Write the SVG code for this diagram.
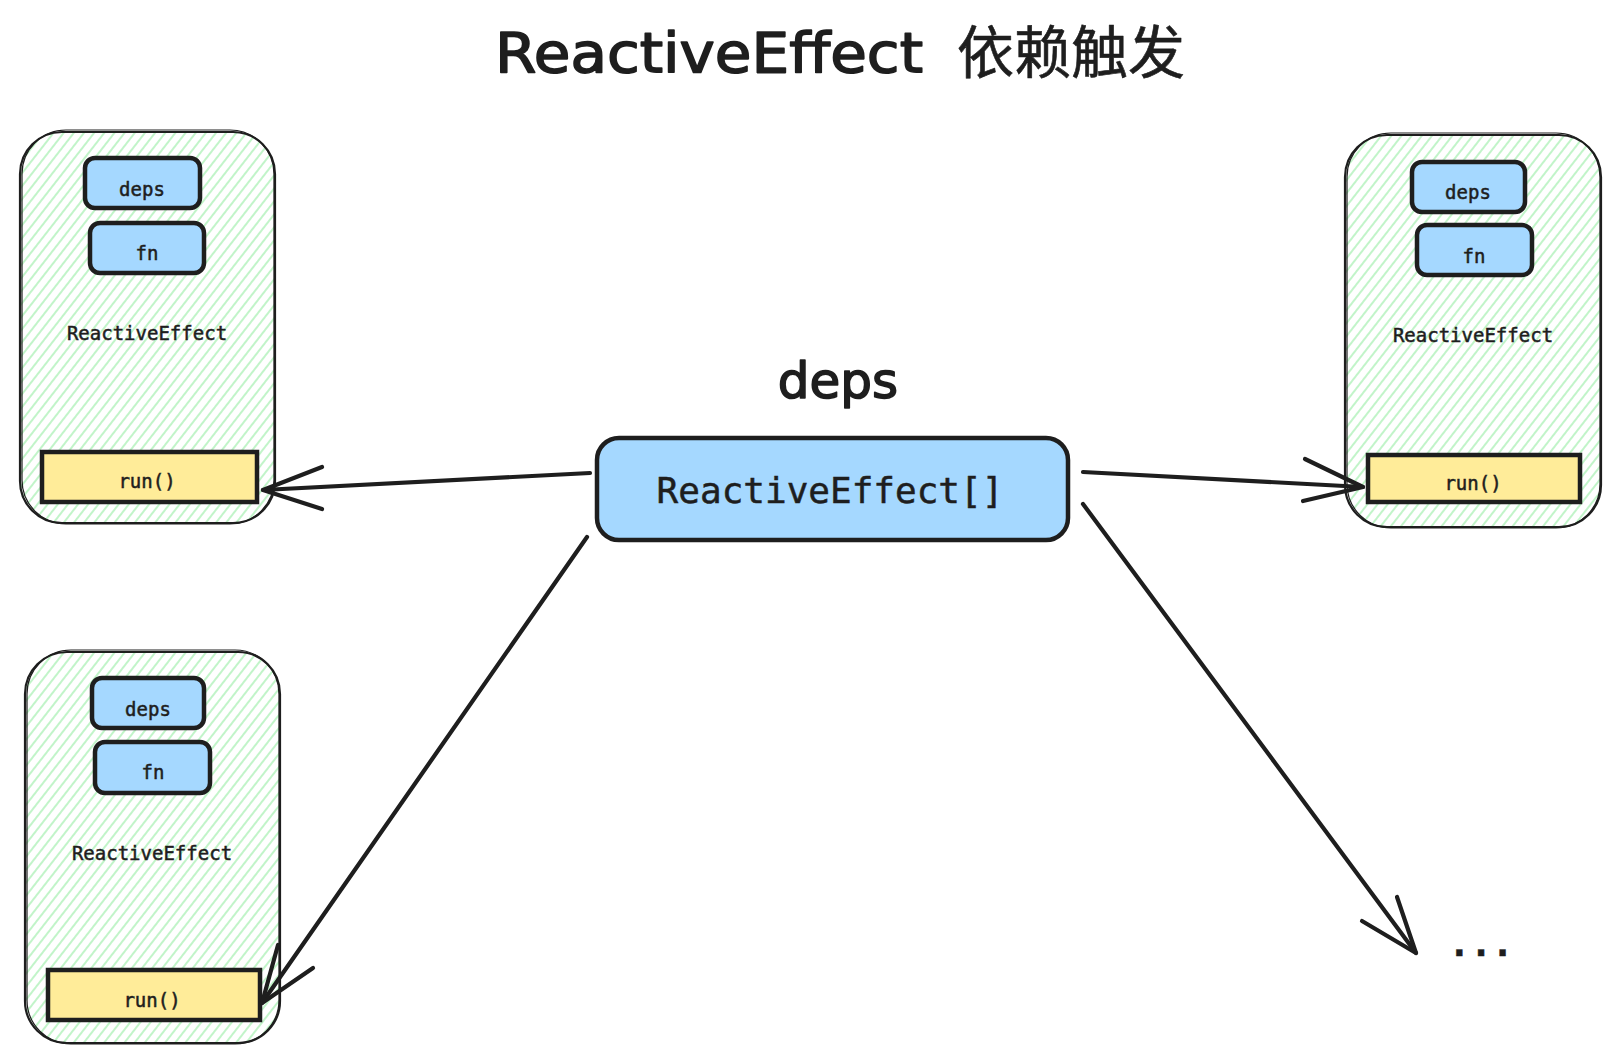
<svg xmlns="http://www.w3.org/2000/svg" width="1619" height="1063" viewBox="0 0 1619 1063">
  <defs>
    <pattern id="hach" width="8" height="8" patternUnits="userSpaceOnUse" patternTransform="rotate(38)">
      <line x1="4" y1="0" x2="4" y2="8" stroke="#b2f2bb" stroke-width="1.6"/>
    </pattern>
    <style>
      .outer { fill: url(#hach); stroke: #1e1e1e; stroke-width: 2.2; }
      .outer2 { fill: none; stroke: #1e1e1e; stroke-width: 1.2; }
      .blue { fill: #a5d8ff; stroke: #1e1e1e; stroke-width: 4.5; }
      .yellow { fill: #ffec99; stroke: #1e1e1e; stroke-width: 4.5; }
      .mono { font-family: "DejaVu Sans Mono", "Liberation Mono", monospace; fill: #1e1e1e; text-anchor: middle; stroke: #1e1e1e; stroke-width: 0.5; }
      .small { font-size: 19px; }
      .hand { font-family: "DejaVu Sans", "Noto Sans", sans-serif; fill: #1e1e1e; stroke: #1e1e1e; stroke-width: 1.6; stroke-linejoin: round; }
      .conn { fill: none; stroke: #1e1e1e; stroke-width: 4.2; stroke-linecap: round; stroke-linejoin: round; }
    </style>
  </defs>
  <rect width="1619" height="1063" fill="#ffffff"/>

  <g id="title">
    <text class="hand" y="72" font-size="56"><tspan x="495" textLength="428" lengthAdjust="spacingAndGlyphs">ReactiveEffect</tspan><tspan x="957" y="73" font-size="57" stroke-width="0.6" font-family="'Noto Sans CJK SC', sans-serif">依赖触发</tspan></text>
  </g>

  <g id="effect-top-left">
    <rect class="outer" x="20" y="132" width="255" height="391" rx="42"/>
    <rect class="outer2" x="22" y="130" width="252" height="394" rx="44"/>
    <g id="tl-deps"><rect class="blue" x="85" y="158" width="115" height="50" rx="10"/><text class="mono small" x="142" y="196">deps</text></g>
    <g id="tl-fn"><rect class="blue" x="90" y="223" width="114" height="50" rx="10"/><text class="mono small" x="147" y="260">fn</text></g>
    <text class="mono small" x="147" y="340">ReactiveEffect</text>
    <g id="tl-run"><rect class="yellow" x="42" y="452" width="215" height="50"/><text class="mono small" x="147" y="488">run()</text></g>
  </g>

  <g id="effect-right">
    <rect class="outer" x="1345" y="135" width="256" height="392" rx="42"/>
    <rect class="outer2" x="1347" y="133" width="253" height="395" rx="44"/>
    <g id="r-deps"><rect class="blue" x="1412" y="162" width="113" height="50" rx="10"/><text class="mono small" x="1468" y="199">deps</text></g>
    <g id="r-fn"><rect class="blue" x="1417" y="225" width="115" height="50" rx="10"/><text class="mono small" x="1474" y="263">fn</text></g>
    <text class="mono small" x="1473" y="342">ReactiveEffect</text>
    <g id="r-run"><rect class="yellow" x="1368" y="455" width="212" height="47"/><text class="mono small" x="1473" y="490">run()</text></g>
  </g>

  <g id="effect-bottom-left">
    <rect class="outer" x="25" y="652" width="255" height="391" rx="42"/>
    <rect class="outer2" x="27" y="650" width="252" height="394" rx="44"/>
    <g id="bl-deps"><rect class="blue" x="92" y="678" width="112" height="50" rx="10"/><text class="mono small" x="148" y="716">deps</text></g>
    <g id="bl-fn"><rect class="blue" x="95" y="742" width="115" height="51" rx="10"/><text class="mono small" x="153" y="779">fn</text></g>
    <text class="mono small" x="152" y="860">ReactiveEffect</text>
    <g id="bl-run"><rect class="yellow" x="48" y="970" width="212" height="50"/><text class="mono small" x="152" y="1007">run()</text></g>
  </g>

  <g id="deps-array">
    <text class="hand" x="838" y="398" font-size="50" text-anchor="middle">deps</text>
    <rect class="blue" x="597" y="438" width="471" height="102" rx="22"/>
    <text class="mono" x="830" y="503" font-size="36" stroke-width="0.8">ReactiveEffect[]</text>
  </g>

  <g id="ellipsis">
    <text class="mono" x="1481" y="956" font-size="36" font-weight="bold" stroke-width="4" stroke-linejoin="round">...</text>
  </g>

  <g id="connectors">
    <path class="conn" d="M590 473 L263 490"/>
    <path class="conn" d="M322 467 L263 490 L322 509"/>
    <path class="conn" d="M1083 472 L1363 487"/>
    <path class="conn" d="M1305 459 L1363 487 L1303 501"/>
    <path class="conn" d="M587 537 L262 1003"/>
    <path class="conn" d="M278 945 L262 1003 L313 968"/>
    <path class="conn" d="M1083 504 L1416 953"/>
    <path class="conn" d="M1397 897 L1416 953 L1362 921"/>
  </g>
</svg>
